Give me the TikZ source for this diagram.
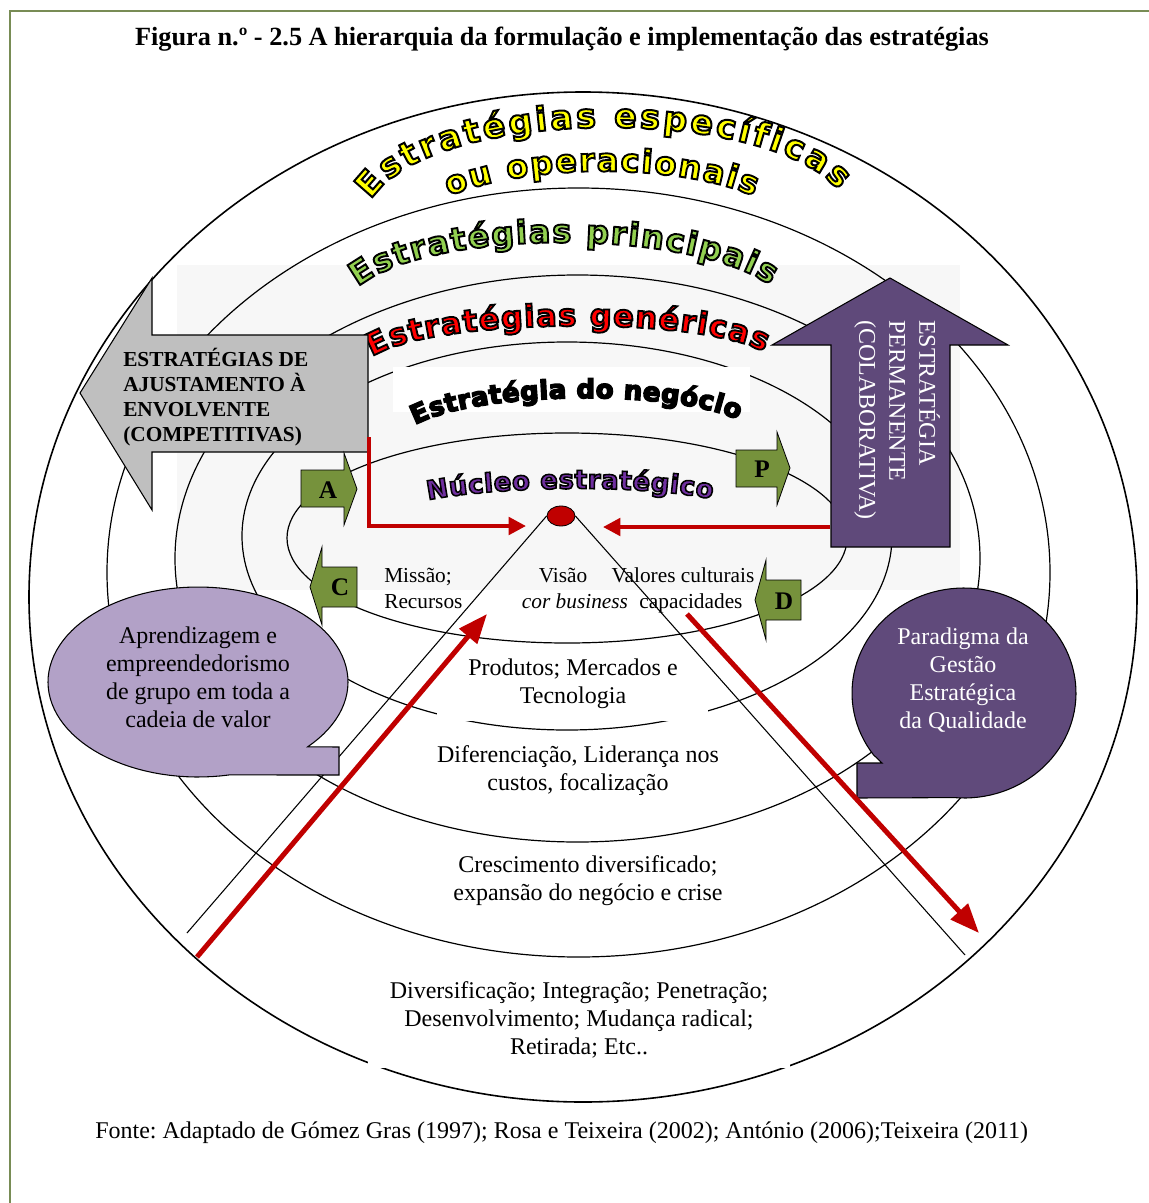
\documentclass[tikz,border=0pt]{standalone}
\usepackage{fontspec}
\setmainfont{Liberation Serif}
\newfontfamily\waO{DejaVu Sans Bold}[FakeBold=6]
\usetikzlibrary{decorations.text, shapes.geometric, arrows.meta}
\frenchspacing

\definecolor{frameol}{RGB}{120,140,85}
\definecolor{arrgreen}{RGB}{118,146,60}
\definecolor{arrgray}{RGB}{191,191,191}
\definecolor{darkpurple}{RGB}{95,73,122}
\definecolor{lightpurple}{RGB}{178,161,199}
\definecolor{bubpurple}{RGB}{96,74,123}
\definecolor{darkred}{RGB}{192,0,0}
\definecolor{waYellow}{RGB}{255,255,0}
\definecolor{waGreen}{RGB}{146,208,80}
\definecolor{waRed}{RGB}{255,0,0}
\definecolor{waPurple}{RGB}{112,48,160}

% outlined (fill + black stroke) WordArt fonts
\newcommand\blackstroke{\special{pdf:literal direct 0 G}}
\newcommand\waA{\waO\fontsize{25}{30}\selectfont\blackstroke}
\newcommand\waD{\waO\fontsize{24}{29}\selectfont\blackstroke}
\newcommand\waC{\waO\fontsize{23}{28}\selectfont\blackstroke}
\newcommand\waB{\waO\fontsize{19.5}{24}\selectfont\blackstroke}

% #1 font, #2 fill colour, #3 text, #4 path
\newcommand\arctext[4]{%
  \path[decorate, decoration={text along path, text={|#1|#3}, text align=fit to path, text color=#2}] #4;
}

\begin{document}
\begin{tikzpicture}[x=0.75pt,y=-0.75pt,
  ell/.style={draw=black, line width=0.9pt},
  txt/.style={inner sep=0pt, font=\fontsize{18}{21}\selectfont, align=center},
  lbl/.style={inner sep=0pt, font=\fontsize{16}{19.5}\selectfont},
  greenarr/.style={fill=arrgreen, draw=black, line width=0.6pt},
  arrlbl/.style={inner sep=0pt, font=\bfseries\fontsize{19}{19}\selectfont},
  redthick/.style={draw=darkred, line width=3.75pt, -{Triangle[length=22pt,width=17pt]}},
  redthin/.style={draw=darkred, line width=3pt, -{Triangle[length=13pt,width=13pt]}},
  leg/.style={draw=black, line width=0.8pt},
]
\useasboundingbox (0,0) rectangle (1149,1203);
\fill[white] (0,0) rectangle (1149,1203);

% frame
\draw[draw=frameol, line width=1.5pt] (10,1203) -- (10,11) -- (1149,11);

% faint watermark background
\fill[black!3] (177,265) rectangle (960,590);

% concentric ellipses
\draw[ell, line width=1.2pt] (583,597) ellipse [x radius=415.5pt, y radius=378.75pt];
\draw[ell] (578.5,572.5) ellipse [x radius=353.625pt, y radius=288.375pt];
\draw[ell] (577.5,558.5) ellipse [x radius=301.875pt, y radius=212.625pt];
\draw[ell] (567,536) ellipse [x radius=243.75pt, y radius=145.5pt];
\draw[ell] (567,538) ellipse [x radius=210pt, y radius=78.75pt];

% white text boxes that break the ellipses
\fill[white] (393,367) rectangle (750,412);
\fill[white] (437,652) rectangle (708,721);
\fill[white] (368,975) rectangle (790,1068);

% red dot and thin legs
\node[ellipse, draw=black, line width=0.6pt, fill=darkred, minimum width=21pt, minimum height=15pt, inner sep=0pt] (dot) at (561,516) {};
\coordinate (legL) at (187,933);
\coordinate (legR) at (965,955);
\draw[leg] (dot.west) -- (legL);
\draw[leg] (dot.east) -- (legR);

% arched titles
\arctext{\waA}{waYellow}{Estratégias específicas}{(371,200) .. controls (431,105) and (768,105) .. (838,190)}
\arctext{\waD}{waYellow}{ou operacionais}{(449,196) .. controls (530,163) and (676,163) .. (754,196)}
\arctext{\waD}{waGreen}{Estratégias principais}{(358,287) .. controls (430,228) and (688,228) .. (770,285)}
\arctext{\waC}{waRed}{Estratégias genéricas}{(372,357) .. controls (430,318) and (698,315) .. (764,352)}
\arctext{\waB}{black}{Estratégia do negócio}{(415,425) .. controls (480,390) and (676,390) .. (738,420)}
\arctext{\waB}{waPurple}{Núcleo estratégico}{(428,500) .. controls (500,486) and (638,484) .. (712,499)}

% grey arrow (left)
\draw[fill=arrgray, draw=black, line width=0.8pt] (80,393) -- (152,278) -- (152,335) -- (368,335) -- (368,452) -- (152,452) -- (152,510) -- cycle;
\node[inner sep=0pt, align=left, anchor=west, font=\bfseries\fontsize{16}{18.75}\selectfont] (grayTxt) at (123,397) {ESTRATÉGIAS DE\\AJUSTAMENTO À\\ENVOLVENTE\\(COMPETITIVAS)};

% purple arrow (up)
\draw[fill=darkpurple, draw=black, line width=0.8pt] (890,278) -- (1008,345) -- (950,345) -- (950,547) -- (831,547) -- (831,345) -- (772,345) -- cycle;
\node[inner sep=0pt, align=left, anchor=west, rotate=-90, text=white, font=\fontsize{18}{22.5}\selectfont] (purpTxt) at (897,320) {ESTRATÉGIA\\PERMANENTE\\(COLABORATIVA)};

% green block arrows
\draw[greenarr] (301,470) -- (344,470) -- (344,453) -- (357,489) -- (344,525) -- (344,507) -- (301,507) -- cycle;
\node[arrlbl] (lA) at (328,490) {A};
\draw[greenarr] (736,450) -- (777,450) -- (777,432) -- (790,468) -- (777,505) -- (777,487) -- (736,487) -- cycle;
\node[arrlbl] (lP) at (762,469) {P};
\draw[greenarr] (310,587) -- (322,547) -- (322,567) -- (357,567) -- (357,607) -- (322,607) -- (322,625) -- cycle;
\node[arrlbl] (lC) at (340,587) {C};
\draw[greenarr] (755,600) -- (766,560) -- (766,580) -- (801,580) -- (801,620) -- (766,620) -- (766,640) -- cycle;
\node[arrlbl] (lD) at (784,601) {D};

% callout bubbles
\draw[fill=lightpurple, draw=black, line width=0.8pt] (339,775) -- (339,747) -- plot[domain=0:325, samples=100, variable=\t] ({198+150*cos(43-\t)}, {682+95*sin(43-\t)}) -- cycle;
\node[txt] (bubLtxt) at (198,677) {Aprendizagem e\\empreendedorismo\\de grupo em toda a\\cadeia de valor};
\draw[fill=bubpurple, draw=black, line width=0.8pt] (857,798) -- (857,763) -- (882,763) -- plot[domain=144:455, samples=100, variable=\t] ({964+112*cos(\t)}, {693+105*sin(\t)}) -- cycle;
\node[txt, text=white] (bubRtxt) at (963,680) {Paradigma da\\Gestão\\Estratégica\\da Qualidade};

% red connectors
\coordinate (lTop) at (369,437);
\coordinate (lEnd) at (526,526);
\draw[redthin] (lTop) |- (lEnd);
\coordinate (rStart) at (830,527);
\coordinate (rEnd) at (603,527);
\draw[redthin] (rStart) -- (rEnd);
\coordinate (upS) at (197,957);
\coordinate (upE) at (487,614);
\draw[redthick] (upS) -- (upE);
\coordinate (dnS) at (687,614);
\coordinate (dnE) at (979,933);
\draw[redthick] (dnS) -- (dnE);

% texts in the rings
\node[lbl, align=left, anchor=west] (l1) at (384,588) {Missão;\\Recursos};
\node[lbl, anchor=base] (l2) at (563,582) {Visão};
\node[lbl, anchor=base, font=\itshape\fontsize{16}{19.5}\selectfont] (l3) at (575,608) {cor business};
\node[lbl, anchor=base] (l4) at (683,582) {Valores culturais};
\node[lbl, anchor=base] (l5) at (691,608) {capacidades};
\node[txt] (t1) at (573,684) {Produtos; Mercados e\\Tecnologia};
\node[txt] (t2) at (578,771) {Diferenciação, Liderança nos\\custos, focalização};
\node[txt] (t3) at (588,881) {Crescimento diversificado;\\expansão do negócio e crise};
\node[txt] (t4) at (579,1020) {Diversificação; Integração; Penetração;\\Desenvolvimento; Mudança radical;\\Retirada; Etc..};

% title and source
\node[txt, font=\bfseries\fontsize{19.7}{23}\selectfont, anchor=base] (title) at (562,45) {Figura n.º - 2.5 A hierarquia da formulação e implementação das estratégias};
\node[txt, anchor=base west] (fonte) at (95,1138) {Fonte: Adaptado de Gómez Gras (1997); Rosa e Teixeira (2002); António (2006);Teixeira (2011)};
\end{tikzpicture}
\end{document}
